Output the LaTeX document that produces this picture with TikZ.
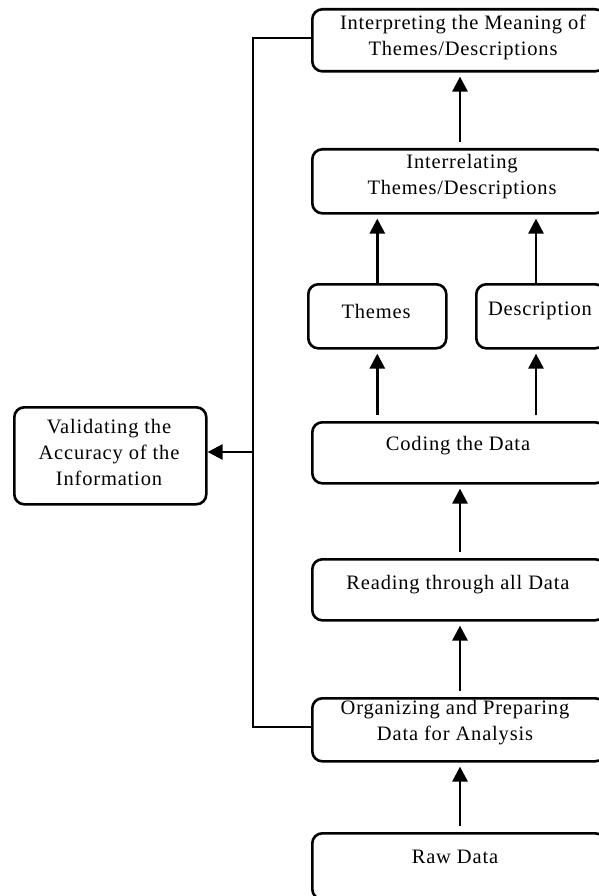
\documentclass[tikz,border=0pt]{standalone}
\usepackage{fontspec}
\setmainfont{Liberation Serif}[LetterSpace=4]
\usetikzlibrary{arrows.meta}

\tikzset{
  stage/.style={draw=black, line width=2.6pt, rounded corners=10pt,
    inner sep=0pt, anchor=north west},
  caption/.style={align=center, inner sep=0pt,
    font=\fontsize{20.5pt}{26pt}\selectfont},
  flow/.style={line width=2.8pt, -{Triangle[length=15pt,width=15pt]},
    shorten <=6pt, shorten >=4pt},
  bracket/.style={line width=2.6pt},
}

\begin{document}
\begin{tikzpicture}[x=1pt, y=-1pt]
  \useasboundingbox (0,0) rectangle (598,896);

  % process boxes (right edges run past the page)
  \node[stage, minimum width=293pt, minimum height=62pt] (interp) at (311,8) {};
  \node[stage, minimum width=293pt, minimum height=64pt] (interrel) at (311,148) {};
  \node[stage, minimum width=138pt, minimum height=64pt] (themes) at (307,283) {};
  \node[stage, minimum width=129pt, minimum height=64pt] (descr) at (475,283) {};
  \node[stage, minimum width=293pt, minimum height=61pt] (coding) at (311,421) {};
  \node[stage, minimum width=293pt, minimum height=61pt] (reading) at (311,558) {};
  \node[stage, minimum width=293pt, minimum height=63pt] (organ) at (311,697) {};
  \node[stage, minimum width=293pt, minimum height=66pt] (raw) at (311,832) {};
  \node[stage, minimum width=192pt, minimum height=97pt] (valid) at (13,406) {};

  % box texts
  \node[caption] at (463,37) {Interpreting the Meaning of\\Themes/Descriptions};
  \node[caption] at (462,177) {Interrelating\\Themes/Descriptions};
  \node[caption] at (376,311) {Themes};
  \node[caption] at (540,311) {Description};
  \node[caption] at (458,446) {Coding the Data};
  \node[caption] at (458,585) {Reading through all Data};
  \node[caption] at (455,723) {Organizing and Preparing\\Data for Analysis};
  \node[caption] at (455,857) {Raw Data};
  \node[caption] at (109,452) {Validating the\\Accuracy of the\\Information};

  % upward flow
  \draw[flow] (raw.north -| 460,0) -- (organ.south -| 460,0);
  \draw[flow] (organ.north -| 460,0) -- (reading.south -| 460,0);
  \draw[flow] (reading.north -| 460,0) -- (coding.south -| 460,0);
  \draw[flow] (coding.north -| themes.south) -- (themes.south);
  \draw[flow] (coding.north -| 536,0) -- (descr.south -| 536,0);
  \draw[flow, shorten <=0pt] (themes.north) -- (interrel.south -| themes.north);
  \draw[flow, shorten <=0pt] (descr.north -| 536,0) -- (interrel.south -| 536,0);
  \draw[flow] (interrel.north -| 460,0) -- (interp.south -| 460,0);

  % validation bracket on the left
  \coordinate (tap) at (253,452);
  \draw[bracket] (interp.west |- 0,38) -- (253,38) -- (253,727) -- (organ.west |- 0,727);
  \draw[line width=2.6pt, -{Triangle[length=15pt,width=15pt]}] (tap) -- (valid.east |- tap);
\end{tikzpicture}
\end{document}
